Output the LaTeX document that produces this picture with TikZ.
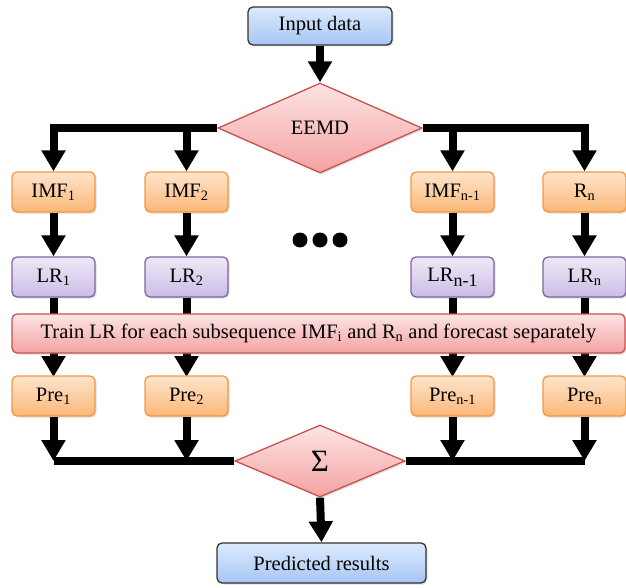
\documentclass[tikz,border=0pt]{standalone}
\usepackage{fontspec}
\setmainfont{Liberation Serif}
\usetikzlibrary{shapes.geometric,arrows.meta,shadows}
\definecolor{bluetop}{HTML}{DDEAFC}
\definecolor{bluebot}{HTML}{A6C6F3}
\definecolor{orgtop}{HTML}{FEE4CC}
\definecolor{orgbot}{HTML}{FBB878}
\definecolor{orgline}{HTML}{F79646}
\definecolor{purtop}{HTML}{EEE8F7}
\definecolor{purbot}{HTML}{CCBDE5}
\definecolor{purline}{HTML}{8064A2}
\definecolor{pinktop}{HTML}{FDE4E4}
\definecolor{pinkbot}{HTML}{F4A2A2}
\definecolor{pinkline}{HTML}{C9524F}
\tikzset{
  txt/.style={font=\fontsize{20.5}{24}\selectfont, text=black, inner sep=1pt},
  sh/.style={drop shadow={shadow xshift=1.5pt, shadow yshift=-1.5pt, opacity=0.25}},
  bluebox/.style={txt, sh, rectangle, rounded corners=5pt, draw=black!80, line width=1.3pt,
    top color=bluetop, bottom color=bluebot},
  orgbox/.style={txt, sh, rectangle, rounded corners=5pt, draw=orgline, line width=1.3pt,
    top color=orgtop, bottom color=orgbot, minimum width=83pt, minimum height=40pt},
  purbox/.style={txt, sh, rectangle, rounded corners=5pt, draw=purline, line width=1.3pt,
    top color=purtop, bottom color=purbot, minimum width=83pt, minimum height=40pt},
  pinkbox/.style={txt, sh, rectangle, rounded corners=5pt, draw=pinkline, line width=1.3pt,
    top color=pinktop, bottom color=pinkbot},
  pinkdia/.style={txt, sh, diamond, draw=pinkline, line width=1.3pt,
    top color=pinktop, bottom color=pinkbot},
  arr/.style={line width=8pt, -{Triangle[width=23pt,length=21pt]}, line join=miter},
  ln/.style={line width=8pt},
}
\begin{document}
\begin{tikzpicture}[x=1pt,y=-1pt]
\useasboundingbox (0,0) rectangle (626,588);
% nodes
\node[bluebox, minimum width=144pt, minimum height=38pt] (in) at (320,26) {Input data};
\node[pinkdia, minimum width=204pt, minimum height=90pt] (eemd) at (320,128) {EEMD};
\node[orgbox] (imfa) at (53.5,192) {IMF\textsubscript{1}};
\node[orgbox] (imfb) at (186.5,192) {IMF\textsubscript{2}};
\node[orgbox] (imfc) at (452.5,192) {IMF\textsubscript{n-1}};
\node[orgbox] (imfd) at (584.5,192) {R\textsubscript{n}};
\node[purbox] (lra) at (53.5,277) {LR\textsubscript{1}};
\node[purbox] (lrb) at (186.5,277) {LR\textsubscript{2}};
\node[purbox] (lrc) at (452.5,277) {LR{\raisebox{-5pt}{\fontsize{18}{18}\selectfont n-1}}};
\node[purbox] (lrd) at (584.5,277) {LR\textsubscript{n}};
% arrows behind the train box
\draw[arr] (lra) -- (lra |- 0,377);
\draw[arr] (lrb) -- (lrb |- 0,377);
\draw[arr] (lrc) -- (lrc |- 0,377);
\draw[arr] (lrd) -- (lrd |- 0,377);
\node[pinkbox, minimum width=613pt, minimum height=39pt] (train) at (318.5,333.5)
  {Train LR for each subsequence IMF\textsubscript{i} and R\textsubscript{n} and forecast separately};
\node[orgbox] (prea) at (53.5,396) {Pre\textsubscript{1}};
\node[orgbox] (preb) at (186.5,396) {Pre\textsubscript{2}};
\node[orgbox] (prec) at (452.5,396) {Pre\textsubscript{n-1}};
\node[orgbox] (pred) at (584.5,396) {Pre\textsubscript{n}};
\node[pinkdia, minimum width=170pt, minimum height=72pt] (sum) at (320,461) {\raisebox{-4pt}{\fontsize{31}{31}\selectfont Σ}};
\node[bluebox, minimum width=209pt, minimum height=40pt] (res) at (321.5,563) {Predicted results};
% dots
\fill (300,240) circle (7.5pt) (320,240) circle (7.5pt) (340,240) circle (7.5pt);
% connectors
\draw[arr] (in) -- (eemd.north);
\draw[arr] (eemd.west) -| (imfa.north);
\draw[arr] (imfb |- eemd.west) -- (imfb.north);
\draw[arr] (eemd.east) -| (imfd.north);
\draw[arr] (imfc |- eemd.east) -- (imfc.north);
\draw[arr] (imfa) -- (lra);
\draw[arr] (imfb) -- (lrb);
\draw[arr] (imfc) -- (lrc);
\draw[arr] (imfd) -- (lrd);
\coordinate (ba) at (prea |- sum.west);
\coordinate (bb) at (preb |- sum.west);
\coordinate (bc) at (prec |- sum.east);
\coordinate (bd) at (pred |- sum.east);
\draw[ln] (ba) -- (sum.west);
\draw[ln] (sum.east) -- (bd);
\draw[arr] (prea) -- (ba);
\draw[arr] (preb) -- (bb);
\draw[arr] (prec) -- (bc);
\draw[arr] (pred) -- (bd);
\draw[arr] (sum.south) -- (res.north);
\end{tikzpicture}
\end{document}
